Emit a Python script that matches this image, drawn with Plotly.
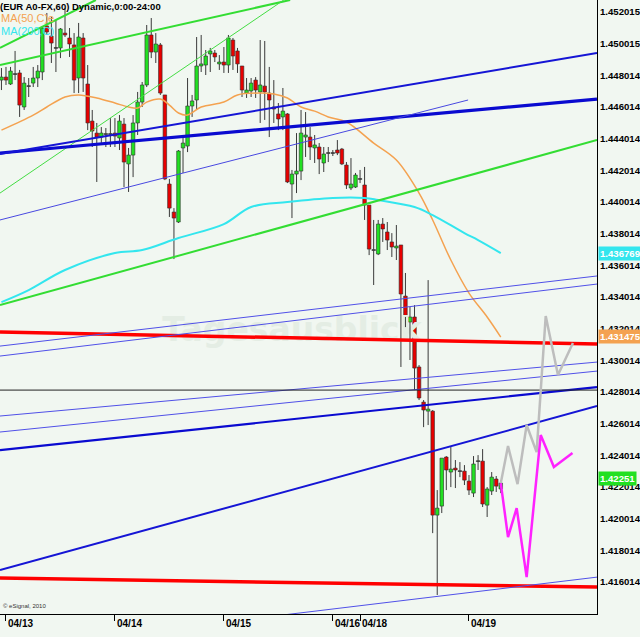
import plotly.graph_objects as go

# ---------------- data ----------------
bar_index = list(range(-1, 110))
open_p = [1.44771,1.44790,1.44746,1.44809,1.44816,1.44601,1.44733,1.44752,1.44784,1.44822,
          1.45113,1.45049,1.44974,1.44974,1.45068,1.45037,1.44993,1.44784,1.45037,1.44746,
          1.44512,1.44436,1.44411,1.44430,1.44430,1.44436,1.44405,1.44493,1.44241,1.44297,
          1.44500,1.44632,1.44740,1.45056,1.44948,1.44993,1.44677,1.44114,1.43937,1.43874,
          1.44342,1.44354,1.44607,1.44645,1.44860,1.44866,1.44936,1.44942,1.44873,1.44885,
          1.44866,1.45024,1.44955,1.44860,1.44689,1.44702,1.44771,1.44696,1.44733,1.44689,
          1.44601,1.44557,1.44538,1.44557,1.44114,1.44177,1.44196,1.44411,1.44411,1.44342,
          1.44348,1.44247,1.44310,1.44310,1.44329,1.44335,1.44234,1.44089,1.44095,1.44146,
          1.44108,1.43981,1.43697,1.43672,1.43861,1.43811,1.43748,1.43710,1.43729,1.43406,
          1.43242,1.43274,1.42958,1.42736,1.42679,1.42679,1.42022,1.42079,1.42389,1.42294,
          1.42319,1.42300,1.42300,1.42237,1.42161,1.42363,1.42363,1.42085,1.42174,1.42250,
          1.42187]
high_p = [1.44847,1.44854,1.44854,1.44955,1.44835,1.44790,1.44784,1.44854,1.44866,1.45106,
          1.45195,1.45170,1.45151,1.45100,1.45226,1.45100,1.45068,1.45132,1.45068,1.44866,
          1.44582,1.44500,1.44474,1.44468,1.44531,1.44531,1.44550,1.44531,1.44342,1.44550,
          1.44696,1.44759,1.45119,1.45163,1.45068,1.45005,1.44677,1.44146,1.43962,1.44329,
          1.44424,1.44784,1.44677,1.45043,1.45056,1.44961,1.44974,1.44961,1.44929,1.44980,
          1.45056,1.45037,1.44974,1.44860,1.44784,1.44784,1.44790,1.45024,1.45018,1.44854,
          1.44771,1.44626,1.44721,1.44563,1.44203,1.44436,1.44582,1.44569,1.44474,1.44424,
          1.44373,1.44348,1.44348,1.44329,1.44392,1.44342,1.44253,1.44278,1.44184,1.44203,
          1.44222,1.43981,1.43887,1.43887,1.43899,1.43874,1.43804,1.43855,1.43729,1.43552,
          1.43337,1.43349,1.42970,1.42749,1.43507,1.42686,1.42180,1.42382,1.42395,1.42452,
          1.42370,1.42357,1.42338,1.42275,1.42395,1.42401,1.42439,1.42199,1.42294,1.42269,
          1.42243]
low_p = [1.44708,1.44740,1.44740,1.44771,1.44538,1.44582,1.44664,1.44727,1.44727,1.44771,
         1.45056,1.44879,1.44822,1.44910,1.45043,1.44917,1.44689,1.44689,1.44696,1.44455,
         1.44348,1.44127,1.44361,1.44348,1.44348,1.44348,1.44329,1.44095,1.44064,1.44158,
         1.44424,1.44601,1.44727,1.44910,1.44879,1.44677,1.44139,1.43906,1.43640,1.43868,
         1.44184,1.44316,1.44538,1.44582,1.44822,1.44803,1.44822,1.44885,1.44835,1.44816,
         1.44816,1.44835,1.44816,1.44664,1.44658,1.44664,1.44658,1.44500,1.44519,1.44411,
         1.44500,1.44455,1.44455,1.44120,1.43899,1.44057,1.44139,1.44285,1.44266,1.44247,
         1.44177,1.44190,1.44253,1.44291,1.44297,1.44234,1.44083,1.44076,1.44089,1.44120,
         1.43887,1.43665,1.43476,1.43665,1.43748,1.43697,1.43653,1.43634,1.42958,1.43210,
         1.43002,1.42812,1.42749,1.42578,1.42591,1.41908,1.41517,1.42035,1.42180,1.42199,
         1.42193,1.42262,1.42212,1.42149,1.42136,1.42307,1.42073,1.42010,1.42149,1.42168,
         1.42161]
close_p = [1.44790,1.44771,1.44828,1.44809,1.44613,1.44752,1.44733,1.44784,1.44828,1.45100,
           1.45075,1.45005,1.44974,1.45094,1.45056,1.44999,1.44771,1.45043,1.44784,1.44500,
           1.44449,1.44411,1.44436,1.44430,1.44430,1.44417,1.44512,1.44253,1.44297,1.44500,
           1.44632,1.44740,1.45056,1.44948,1.44999,1.44689,1.44146,1.43962,1.43899,1.44323,
           1.44373,1.44607,1.44639,1.44860,1.44873,1.44923,1.44955,1.44917,1.44885,1.44866,
           1.45037,1.44923,1.44873,1.44708,1.44708,1.44752,1.44708,1.44740,1.44696,1.44645,
           1.44588,1.44525,1.44575,1.44127,1.44177,1.44196,1.44436,1.44424,1.44348,1.44361,
           1.44272,1.44304,1.44310,1.44310,1.44310,1.44241,1.44108,1.44114,1.44171,1.44146,
           1.43981,1.43703,1.43697,1.43861,1.43830,1.43760,1.43716,1.43722,1.43419,1.43274,
           1.43274,1.42951,1.42762,1.42686,1.42692,1.42022,1.42066,1.42382,1.42307,1.42313,
           1.42307,1.42300,1.42243,1.42180,1.42345,1.42363,1.42092,1.42187,1.42262,1.42205,
           1.42224]

ma50_x = [-1, 6, 9, 13, 16, 20, 24, 27, 29, 31, 34, 36, 38, 40, 43, 48, 51, 56, 59, 62,
          65, 68, 71, 75, 81, 86, 91, 94, 98, 102, 106, 109]
ma50_y = [1.44455,1.44550,1.44601,1.44664,1.44677,1.44658,1.44626,1.44601,1.44594,1.44632,
          1.44651,1.44613,1.44563,1.44550,1.44601,1.44632,1.44677,1.44689,1.44683,1.44658,
          1.44601,1.44575,1.44538,1.44506,1.44373,1.44266,1.44057,1.43887,1.43634,1.43425,
          1.43274,1.43147]
ma200_x = [-1, 5, 13, 24, 30, 38, 48, 54, 62, 72, 79, 82, 90, 94, 101, 104, 109]
ma200_y = [1.43368,1.43444,1.43571,1.43678,1.43697,1.43773,1.43861,1.43969,1.44000,1.44026,
           1.44026,1.44013,1.43969,1.43918,1.43804,1.43760,1.43678]

# trend lines: name -> (x_start, price_start, x_end, price_end)
trend_lines = {
    "green_1": (-1.32, 1.44974, 19.8, 1.45277),
    "green_2": (-1.32, 1.44866, 62.6, 1.45277),
    "green_thin": (-1.32, 1.44057, 61.2, 1.45277),
    "green_low": (-1.32, 1.43349, 130.2, 1.44392),
    "blue_thick_1": (-1.32, 1.44310, 130.2, 1.44651),
    "blue_2": (-1.32, 1.44304, 130.2, 1.44942),
    "blue_thin_up": (-1.32, 1.43887, 101.8, 1.44645),
    "red_top": (-1.32, 1.43179, 130.2, 1.43103),
    "red_bottom": (-1.32, 1.41624, 130.2, 1.41567),
    "blue_thin_a": (-1.32, 1.43090, 130.2, 1.43533),
    "blue_thin_b": (-1.32, 1.43027, 130.2, 1.43482),
    "blue_thin_c": (-1.32, 1.42648, 130.2, 1.42989),
    "blue_thin_d": (-1.32, 1.42547, 130.2, 1.42932),
    "blue_thick_2": (-1.32, 1.42433, 130.2, 1.42831),
    "blue_3": (-1.32, 1.41675, 130.2, 1.42711),
    "blue_thin_e": (-1.32, 1.41175, 130.2, 1.41630),
}
hline_price = 1.42812

proj_gray_x = [109, 110.6, 112.7, 114.7, 116.9, 118.9, 121.6, 124.9]
proj_gray_y = [1.42224, 1.42458, 1.42218, 1.42591, 1.42420, 1.43280, 1.42907, 1.43109]
proj_mag_x = [109, 110.6, 112.5, 114.7, 117.8, 120.7, 124.8]
proj_mag_y = [1.42224, 1.41883, 1.42066, 1.41630, 1.42528, 1.42326, 1.42414]

date_ticks = [0, 24, 48, 72, 78, 102]
date_labels = ["04/13", "04/14", "04/15", "04/16", "04/18", "04/19"]
price_ticks = [1.452015, 1.450015, 1.448014, 1.446014, 1.444014, 1.442014, 1.440014,
               1.438014, 1.436014, 1.434014, 1.432014, 1.430014, 1.428014, 1.426014,
               1.424014, 1.422014, 1.420014, 1.418014, 1.416014]
price_tick_text = ["%.6f" % v for v in price_ticks]
ma200_last, ma50_last, last_price = 1.436769, 1.431475, 1.42251
ma200_text, ma50_text, last_text = "1.436769", "1.431475", "1.42251"
watermark_text = "Tagesausblick"

# ---------------- styles ----------------
BG = "#F1F7F1"
UP = "#22E022"
DOWN = "#E80000"
X_RANGE = [-1.32, 130.2]
Y_RANGE = [1.41397, 1.45277]
FONT = "Liberation Sans"

fig = go.Figure()

# faint watermark as the bottom-most trace (so lines and candles draw over it)
fig.add_trace(go.Scatter(x=[63], y=[1.43174], mode="text", text=[watermark_text],
                         textposition="middle center", hoverinfo="skip",
                         textfont=dict(family="DejaVu Sans", size=33, color="#E4EDE4", weight="bold")))

body_base, body_h, body_col = [], [], []
min_h = 0.00005
for o, c in zip(open_p, close_p):
    lo, hi = min(o, c), max(o, c)
    h = hi - lo
    if h < min_h:
        lo = (lo + hi) / 2 - min_h / 2
        h = min_h
    body_base.append(lo)
    body_h.append(h)
    body_col.append(UP if c > o else (DOWN if c < o else "#202020"))

wx, wy = [], []
for i, o, h, l, c in zip(bar_index, open_p, high_p, low_p, close_p):
    top, bot = max(o, c), min(o, c)
    if h > top:
        wx += [i, i, None]; wy += [top, h, None]
    if l < bot:
        wx += [i, i, None]; wy += [bot, l, None]

fig.add_trace(go.Bar(x=bar_index, y=body_h, base=body_base, width=0.78,
                     marker=dict(color=body_col, line=dict(color="#2a2a2a", width=0.6)),
                     hoverinfo="skip"))
fig.add_trace(go.Scatter(x=wx, y=wy, mode="lines", line=dict(color="#3a3a3a", width=1),
                         hoverinfo="skip"))

fig.add_trace(go.Scatter(x=ma50_x, y=ma50_y, mode="lines",
                         line=dict(color="#F4A250", width=1.5, shape="spline"), hoverinfo="skip"))
fig.add_trace(go.Scatter(x=ma200_x, y=ma200_y, mode="lines",
                         line=dict(color="#33E6EE", width=2, shape="spline"), hoverinfo="skip"))

line_style = {
    "green_1": ("#33DD33", 2), "green_2": ("#33DD33", 2), "green_thin": ("#44DD44", 1),
    "green_low": ("#33DD33", 2),
    "blue_thick_1": ("#0A0AD0", 3.2), "blue_2": ("#1515D5", 2), "blue_thin_up": ("#4848E0", 1),
    "red_top": ("#FF0000", 3.5), "red_bottom": ("#FF0000", 3.5),
    "blue_thin_a": ("#5050E8", 1), "blue_thin_b": ("#5050E8", 1),
    "blue_thin_c": ("#5050E8", 1), "blue_thin_d": ("#5050E8", 1),
    "blue_thick_2": ("#0A0AD0", 2.2), "blue_3": ("#1515D5", 2), "blue_thin_e": ("#5050E8", 1),
}
for name, (x0, p0, x1, p1) in trend_lines.items():
    col, w = line_style[name]
    fig.add_trace(go.Scatter(x=[x0, x1], y=[p0, p1], mode="lines",
                             line=dict(color=col, width=w), hoverinfo="skip"))

fig.add_trace(go.Scatter(x=X_RANGE, y=[hline_price, hline_price], mode="lines",
                         line=dict(color="#222222", width=1), hoverinfo="skip"))

fig.add_trace(go.Scatter(x=proj_gray_x, y=proj_gray_y, mode="lines",
                         line=dict(color="#BDBDBD", width=2.5), hoverinfo="skip"))
fig.add_trace(go.Scatter(x=proj_mag_x, y=proj_mag_y, mode="lines",
                         line=dict(color="#FF22FF", width=2.5), hoverinfo="skip"))

annotations = []
for v, txt in zip(price_ticks, price_tick_text):
    annotations.append(dict(x=1, y=v, xref="paper", yref="y", text=txt, showarrow=False,
                            xanchor="left", yanchor="middle", xshift=1,
                            font=dict(family=FONT, size=9.6, color="#000", weight="bold")))
for t, lab in zip(date_ticks, date_labels):
    annotations.append(dict(x=t, y=0, xref="x", yref="paper", text=lab, showarrow=False,
                            xanchor="left", yanchor="top", yshift=-2, xshift=0,
                            font=dict(family=FONT, size=10, color="#000", weight="bold")))
for val, txt, bg in [(ma200_last, ma200_text, "#33E6EE"), (ma50_last, ma50_text, "#F4A250"),
                     (last_price, last_text, "#22E022")]:
    annotations.append(dict(x=1, y=val, xref="paper", yref="y", text=txt,
                            showarrow=False, xanchor="left", yanchor="middle", xshift=1,
                            bgcolor=bg, borderpad=1,
                            font=dict(family=FONT, size=9.6, color="#FFFFFF", weight="bold")))
annotations.append(dict(x=0, y=1, xref="paper", yref="paper", text="(EUR A0-FX,60) Dynamic,0:00-24:00",
                        showarrow=False, xanchor="left", yanchor="top", xshift=-2, yshift=1,
                        font=dict(family=FONT, size=9.5, color="#000", weight="bold")))
annotations.append(dict(x=0, y=1, xref="paper", yref="paper", text="MA(50,C)e",
                        showarrow=False, xanchor="left", yanchor="top", xshift=-1, yshift=-10,
                        font=dict(family=FONT, size=11, color="#F4A250")))
annotations.append(dict(x=0, y=1, xref="paper", yref="paper", text="MA(200,C)",
                        showarrow=False, xanchor="left", yanchor="top", xshift=-1, yshift=-23,
                        font=dict(family=FONT, size=11, color="#33E6EE")))
annotations.append(dict(x=0, y=0, xref="paper", yref="paper", text="© eSignal, 2010",
                        showarrow=False, xanchor="left", yanchor="bottom", xshift=1, yshift=3,
                        font=dict(family=FONT, size=6, color="#333")))

fig.update_layout(
    width=640, height=637, margin=dict(l=0, r=43, t=0, b=23),
    paper_bgcolor=BG, plot_bgcolor=BG, showlegend=False, barmode="overlay",
    annotations=annotations,
    xaxis=dict(range=X_RANGE, showgrid=False, zeroline=False, showline=True, linecolor="#000",
               linewidth=1, ticks="outside", tickvals=date_ticks, ticklen=6, tickcolor="#000",
               showticklabels=False, fixedrange=True),
    yaxis=dict(range=Y_RANGE, side="right", showgrid=False, zeroline=False, showline=True,
               linecolor="#000", linewidth=1, ticks="", showticklabels=False, fixedrange=True),
)

fig.write_html("out.html", config={"displayModeBar": False},
               post_script="document.body.style.margin='0px';")
